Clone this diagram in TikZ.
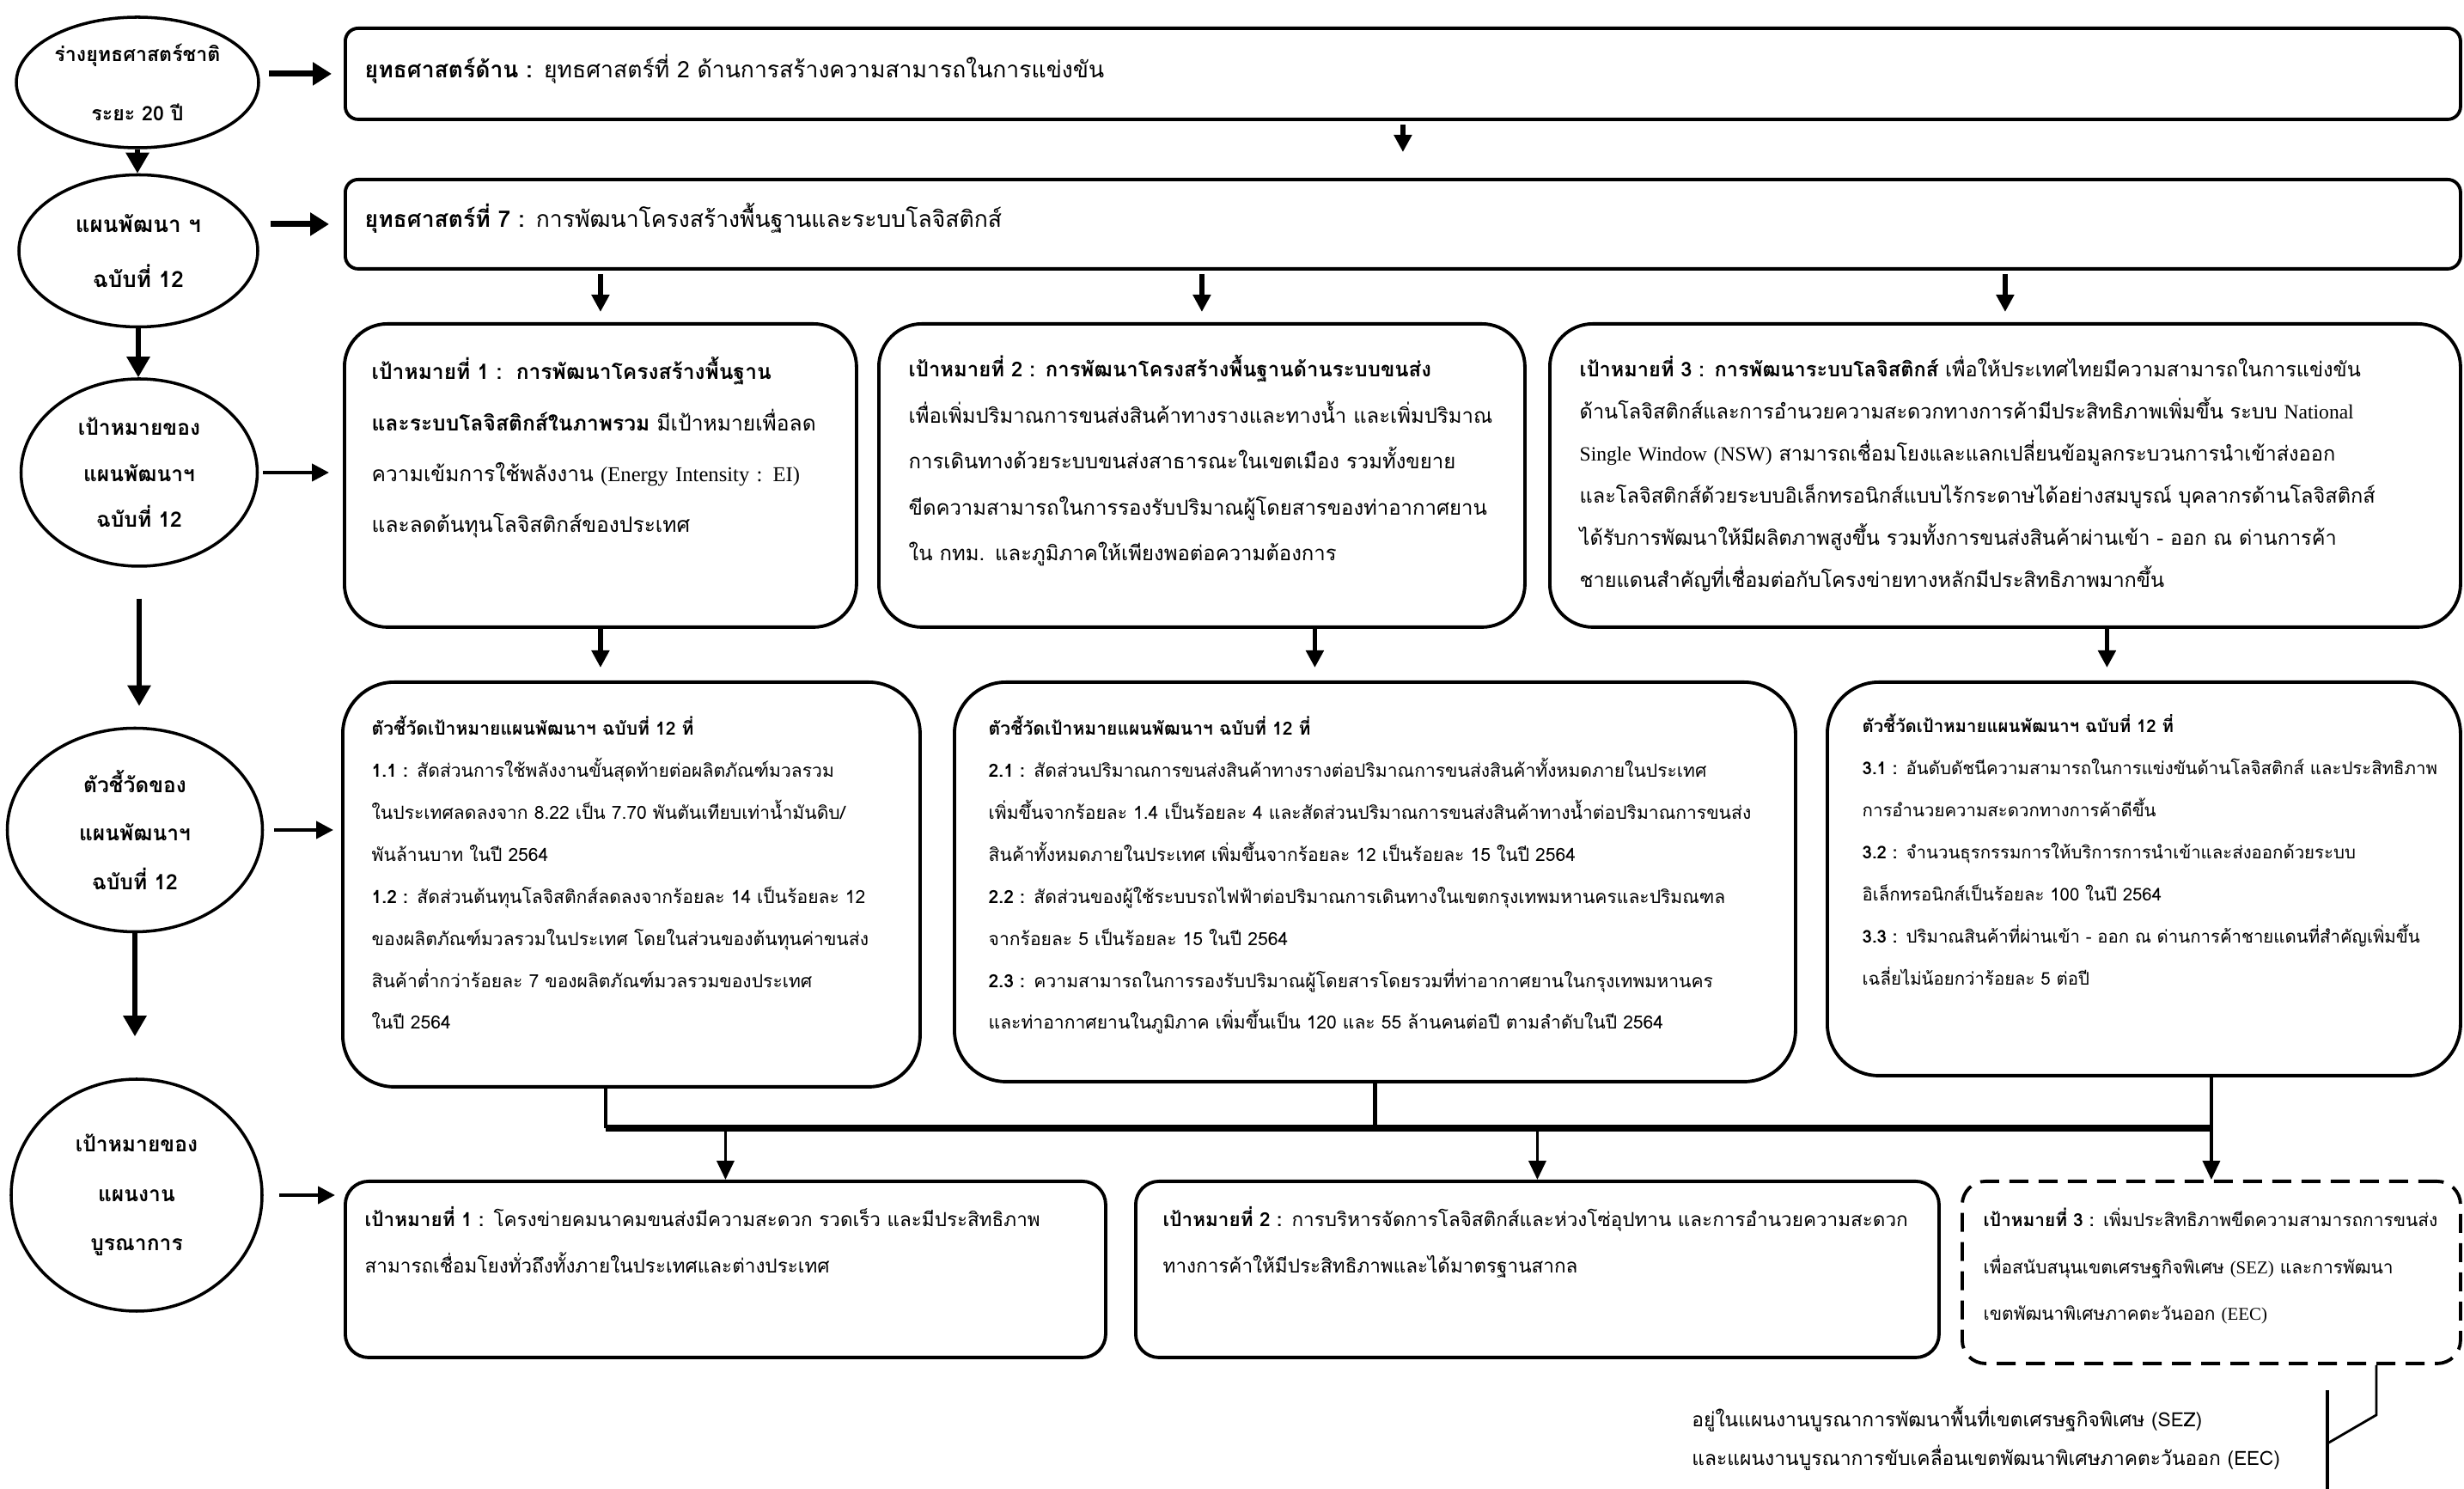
\documentclass[tikz,border=0pt]{standalone}
\usepackage{fontspec}
\newfontfamily\thaifont[Script=Thai]{Loma}
\newfontfamily\latinfont{Liberation Serif}
\newcommand{\en}[1]{{\latinfont #1}}
\usetikzlibrary{shapes.geometric,arrows.meta}

\begin{document}
\begin{tikzpicture}[
        oval/.style = {ellipse, draw, line width=1pt, inner sep=0pt, align=center}, % วงรีด้านซ้าย
        frame/.style = {draw, line width=1.1pt, inner sep=0pt, anchor=north west},
        top/.style = {frame, rounded corners=0.15cm, minimum width=24.62cm},
        goal/.style = {frame, rounded corners=0.5cm, minimum height=3.53cm},
        ind/.style = {frame, rounded corners=0.6cm},
        plan/.style = {frame, rounded corners=0.27cm},
        txt/.style = {anchor=base west, inner sep=0pt, align=left, text width=12cm}, % ข้อความในกรอบ
        fat/.style = {line width=2pt, -{Triangle[length=0.22cm, width=0.26cm]}}, % ลูกศรหนา
        down/.style = {line width=1.6pt, -{Triangle[length=0.24cm, width=0.26cm]}},
        arr/.style = {line width=1.2pt, -{Triangle[length=0.2cm, width=0.2cm]}},
        feed/.style = {line width=1pt, -{Triangle[length=0.22cm, width=0.2cm]}},
    ]

    \path[fill=white, use as bounding box] (0,0) rectangle (28.68,-17.33);

    % คอลัมน์ซ้าย
    \node[oval, minimum width=2.82cm, minimum height=1.52cm, font=\thaifont\bfseries\fontsize{6.6}{19.6}\selectfont]
        (e1) at (1.60,-0.96) {ร่างยุทธศาสตร์ชาติ\\ระยะ 20 ปี};
    \node[oval, minimum width=2.78cm, minimum height=1.77cm, font=\thaifont\bfseries\fontsize{7.4}{18.2}\selectfont]
        (e2) at (1.61,-2.92) {แผนพัฒนา ฯ\\ฉบับที่ 12};
    \node[oval, minimum width=2.75cm, minimum height=2.18cm, font=\thaifont\bfseries\fontsize{7}{15.3}\selectfont]
        (e3) at (1.62,-5.50) {เป้าหมายของ\\แผนพัฒนาฯ\\ฉบับที่ 12};
    \node[oval, minimum width=2.97cm, minimum height=2.37cm, font=\thaifont\bfseries\fontsize{7}{16}\selectfont]
        (e4) at (1.57,-9.66) {ตัวชี้วัดของ\\แผนพัฒนาฯ\\ฉบับที่ 12};
    \node[oval, minimum width=2.92cm, minimum height=2.70cm, font=\thaifont\bfseries\fontsize{7}{16.3}\selectfont]
        (e5) at (1.59,-13.91) {เป้าหมายของ\\แผนงาน\\บูรณาการ};

    % ยุทธศาสตร์
    \node[top, minimum height=1.06cm] (sa) at (4.00,-0.31) {};
    \node[txt, font=\thaifont\fontsize{7.55}{12}\selectfont] (sat) at ([shift={(0.24,-0.60)}]sa.north west)
        {\textbf{ยุทธศาสตร์ด้าน :} ยุทธศาสตร์ที่ 2 ด้านการสร้างความสามารถในการแข่งขัน};
    \node[top, minimum height=1.04cm] (sb) at (4.00,-2.07) {};
    \node[txt, font=\thaifont\fontsize{7.55}{12}\selectfont] (sbt) at ([shift={(0.24,-0.58)}]sb.north west)
        {\textbf{ยุทธศาสตร์ที่ 7 :} การพัฒนาโครงสร้างพื้นฐานและระบบโลจิสติกส์};

    % เป้าหมายแผนพัฒนาฯ
    \node[goal, minimum width=5.96cm] (g1) at (3.99,-3.75) {};
    \node[txt, font=\thaifont\fontsize{7}{16.8}\selectfont] (g1t) at ([shift={(0.33,-0.67)}]g1.north west)
        {\textbf{เป้าหมายที่ 1 :\ \ การพัฒนาโครงสร้างพื้นฐาน}\\
         \textbf{และระบบโลจิสติกส์ในภาพรวม} มีเป้าหมายเพื่อลด\\
         ความเข้มการใช้พลังงาน \en{(Energy Intensity : EI)}\\
         และลดต้นทุนโลจิสติกส์ของประเทศ};
    \node[goal, minimum width=7.52cm] (g2) at (10.21,-3.75) {};
    \node[txt, font=\thaifont\fontsize{6.8}{15.2}\selectfont] (g2t) at ([shift={(0.36,-0.64)}]g2.north west)
        {\textbf{เป้าหมายที่ 2 : การพัฒนาโครงสร้างพื้นฐานด้านระบบขนส่ง}\\
         เพื่อเพิ่มปริมาณการขนส่งสินค้าทางรางและทางน้ำ และเพิ่มปริมาณ\\
         การเดินทางด้วยระบบขนส่งสาธารณะในเขตเมือง รวมทั้งขยาย\\
         ขีดความสามารถในการรองรับปริมาณผู้โดยสารของท่าอากาศยาน\\
         ใน กทม. และภูมิภาคให้เพียงพอต่อความต้องการ};
    \node[goal, minimum width=10.60cm] (g3) at (18.02,-3.75) {};
    \node[txt, font=\thaifont\fontsize{6.7}{13.9}\selectfont] (g3t) at ([shift={(0.36,-0.64)}]g3.north west)
        {\textbf{เป้าหมายที่ 3 : การพัฒนาระบบโลจิสติกส์} เพื่อให้ประเทศไทยมีความสามารถในการแข่งขัน\\
         ด้านโลจิสติกส์และการอำนวยความสะดวกทางการค้ามีประสิทธิภาพเพิ่มขึ้น ระบบ \en{National}\\
         \en{Single Window (NSW)} สามารถเชื่อมโยงและแลกเปลี่ยนข้อมูลกระบวนการนำเข้าส่งออก\\
         และโลจิสติกส์ด้วยระบบอิเล็กทรอนิกส์แบบไร้กระดาษได้อย่างสมบูรณ์ บุคลากรด้านโลจิสติกส์\\
         ได้รับการพัฒนาให้มีผลิตภาพสูงขึ้น รวมทั้งการขนส่งสินค้าผ่านเข้า - ออก ณ ด่านการค้า\\
         ชายแดนสำคัญที่เชื่อมต่อกับโครงข่ายทางหลักมีประสิทธิภาพมากขึ้น};

    % ตัวชี้วัด
    \node[ind, minimum width=6.72cm, minimum height=4.71cm] (i1) at (3.97,-7.92) {};
    \node[txt, font=\thaifont\fontsize{6}{13.9}\selectfont] (i1t) at ([shift={(0.35,-0.64)}]i1.north west)
        {\textbf{ตัวชี้วัดเป้าหมายแผนพัฒนาฯ ฉบับที่ 12 ที่}\\
         \textbf{1.1 :} สัดส่วนการใช้พลังงานขั้นสุดท้ายต่อผลิตภัณฑ์มวลรวม\\
         ในประเทศลดลงจาก 8.22 เป็น 7.70 พันตันเทียบเท่าน้ำมันดิบ/\\
         พันล้านบาท ในปี 2564\\
         \textbf{1.2 :} สัดส่วนต้นทุนโลจิสติกส์ลดลงจากร้อยละ 14 เป็นร้อยละ 12\\
         ของผลิตภัณฑ์มวลรวมในประเทศ โดยในส่วนของต้นทุนค่าขนส่ง\\
         สินค้าต่ำกว่าร้อยละ 7 ของผลิตภัณฑ์มวลรวมของประเทศ\\
         ในปี 2564};
    \node[ind, minimum width=9.79cm, minimum height=4.65cm] (i2) at (11.09,-7.92) {};
    \node[txt, font=\thaifont\fontsize{6}{13.9}\selectfont] (i2t) at ([shift={(0.41,-0.64)}]i2.north west)
        {\textbf{ตัวชี้วัดเป้าหมายแผนพัฒนาฯ ฉบับที่ 12 ที่}\\
         \textbf{2.1 :} สัดส่วนปริมาณการขนส่งสินค้าทางรางต่อปริมาณการขนส่งสินค้าทั้งหมดภายในประเทศ\\
         เพิ่มขึ้นจากร้อยละ 1.4 เป็นร้อยละ 4 และสัดส่วนปริมาณการขนส่งสินค้าทางน้ำต่อปริมาณการขนส่ง\\
         สินค้าทั้งหมดภายในประเทศ เพิ่มขึ้นจากร้อยละ 12 เป็นร้อยละ 15 ในปี 2564\\
         \textbf{2.2 :} สัดส่วนของผู้ใช้ระบบรถไฟฟ้าต่อปริมาณการเดินทางในเขตกรุงเทพมหานครและปริมณฑล\\
         จากร้อยละ 5 เป็นร้อยละ 15 ในปี 2564\\
         \textbf{2.3 :} ความสามารถในการรองรับปริมาณผู้โดยสารโดยรวมที่ท่าอากาศยานในกรุงเทพมหานคร\\
         และท่าอากาศยานในภูมิภาค เพิ่มขึ้นเป็น 120 และ 55 ล้านคนต่อปี ตามลำดับในปี 2564};
    \node[ind, minimum width=7.37cm, minimum height=4.58cm] (i3) at (21.25,-7.92) {};
    \node[txt, font=\thaifont\fontsize{5.8}{13.9}\selectfont] (i3t) at ([shift={(0.42,-0.61)}]i3.north west)
        {\textbf{ตัวชี้วัดเป้าหมายแผนพัฒนาฯ ฉบับที่ 12 ที่}\\
         \textbf{3.1 :} อันดับดัชนีความสามารถในการแข่งขันด้านโลจิสติกส์ และประสิทธิภาพ\\
         การอำนวยความสะดวกทางการค้าดีขึ้น\\
         \textbf{3.2 :} จำนวนธุรกรรมการให้บริการการนำเข้าและส่งออกด้วยระบบ\\
         อิเล็กทรอนิกส์เป็นร้อยละ 100 ในปี 2564\\
         \textbf{3.3 :} ปริมาณสินค้าที่ผ่านเข้า - ออก ณ ด่านการค้าชายแดนที่สำคัญเพิ่มขึ้น\\
         เฉลี่ยไม่น้อยกว่าร้อยละ 5 ต่อปี};

    % เป้าหมายแผนงานบูรณาการ
    \node[plan, minimum width=8.85cm, minimum height=2.05cm] (b1) at (4.00,-13.73) {};
    \node[txt, font=\thaifont\fontsize{6.4}{15.1}\selectfont] (b1t) at ([shift={(0.24,-0.55)}]b1.north west)
        {\textbf{เป้าหมายที่ 1 :} โครงข่ายคมนาคมขนส่งมีความสะดวก รวดเร็ว และมีประสิทธิภาพ\\
         สามารถเชื่อมโยงทั่วถึงทั้งภายในประเทศและต่างประเทศ};
    \node[plan, minimum width=9.35cm, minimum height=2.05cm] (b2) at (13.20,-13.73) {};
    \node[txt, font=\thaifont\fontsize{6.4}{15.1}\selectfont] (b2t) at ([shift={(0.33,-0.55)}]b2.north west)
        {\textbf{เป้าหมายที่ 2 :} การบริหารจัดการโลจิสติกส์และห่วงโซ่อุปทาน และการอำนวยความสะดวก\\
         ทางการค้าให้มีประสิทธิภาพและได้มาตรฐานสากล};
    \node[plan, dash pattern=on 0.22cm off 0.12cm, minimum width=5.80cm, minimum height=2.12cm] (b3) at (22.82,-13.73) {};
    \node[txt, font=\thaifont\fontsize{5.95}{15.4}\selectfont] (b3t) at ([shift={(0.26,-0.55)}]b3.north west)
        {\textbf{เป้าหมายที่ 3 :} เพิ่มประสิทธิภาพขีดความสามารถการขนส่ง\\
         เพื่อสนับสนุนเขตเศรษฐกิจพิเศษ \en{(SEZ)} และการพัฒนา\\
         เขตพัฒนาพิเศษภาคตะวันออก \en{(EEC)}};

    \node[align=left, anchor=west, font=\thaifont\fontsize{6.5}{12.8}\selectfont] (note) at (19.57,-16.74)
        {อยู่ในแผนงานบูรณาการพัฒนาพื้นที่เขตเศรษฐกิจพิเศษ (SEZ)\\
         และแผนงานบูรณาการขับเคลื่อนเขตพัฒนาพิเศษภาคตะวันออก (EEC)};

    % ลูกศรคอลัมน์ซ้าย
    \draw[down] (e1.south) -- (e1.south |- e2.north);
    \draw[down] (e2.south) -- (e2.south |- e3.north);
    \draw[down, shorten <=0.36cm, shorten >=0.24cm] (e3.south) -- (e3.south |- e4.north);
    \draw[down, shorten >=0.48cm] (e4.south) -- (e4.south |- e5.north);

    % ลูกศรไปทางขวา
    \draw[fat, shorten <=0.1cm, shorten >=0.14cm] (e1.east |- sa.west) -- (sa.west);
    \draw[fat, shorten <=0.13cm, shorten >=0.17cm] (e2.east |- sb.west) -- (sb.west);
    \draw[arr, shorten <=0.05cm, shorten >=0.16cm] (e3.east) -- (e3.east -| g1.west);
    \draw[arr, shorten <=0.12cm, shorten >=0.09cm] (e4.east) -- (e4.east -| i1.west);
    \draw[arr, shorten <=0.18cm, shorten >=0.1cm] (e5.east) -- (e5.east -| b1.west);

    % ลูกศรลง
    \draw[arr, line width=1.5pt, shorten <=0.04cm, shorten >=0.3cm] (sa.south) -- (sb.north);
    \draw[arr, line width=1.5pt, shorten <=0.04cm, shorten >=0.12cm] (sb.south -| g1.north) -- (g1.north);
    \draw[arr, line width=1.5pt, shorten <=0.04cm, shorten >=0.12cm] (sb.south -| g2.north) -- (g2.north);
    \draw[arr, line width=1.5pt, shorten <=0.04cm, shorten >=0.12cm] (sb.south -| g3.north) -- (g3.north);
    \draw[arr, line width=1.5pt, shorten >=0.15cm] (g1.south) -- (g1.south |- i1.north);
    \draw[arr, line width=1.5pt, shorten >=0.15cm] ([xshift=-0.70cm]i2.north |- g2.south) -- ([xshift=-0.70cm]i2.north);
    \draw[arr, line width=1.5pt, shorten >=0.15cm] ([xshift=-0.43cm]i3.north |- g3.south) -- ([xshift=-0.43cm]i3.north);

    % เส้นรวม
    \coordinate (bus) at (0,-13.13);
    \draw[line width=1.2pt] ([xshift=-0.30cm]i1.south) -- ([xshift=-0.30cm]i1.south |- bus);
    \draw[line width=1.2pt] (i2.south) -- (i2.south |- bus);
    \draw[line width=1.2pt] (b3.north |- i3.south) -- (b3.north |- bus);
    \draw[line width=2.2pt] ([xshift=-0.30cm]i1.south |- bus) -- (b3.north |- bus);
    \draw[feed] (b1.north |- bus) -- (b1.north);
    \draw[feed] (b2.north |- bus) -- (b2.north);
    \draw[feed] (b3.north |- bus) -- (b3.north);

    % วงเล็บหมายเหตุ
    \coordinate (kt) at (27.09,-16.18);
    \coordinate (km) at (27.09,-16.80);
    \coordinate (kb) at (27.09,-17.33);
    \draw[line width=0.8pt] ([xshift=1.92cm]b3.south) -- ++(0,-0.58) -- (km);
    \draw[line width=0.9pt] (kt) -- (kb);
\end{tikzpicture}
\end{document}
